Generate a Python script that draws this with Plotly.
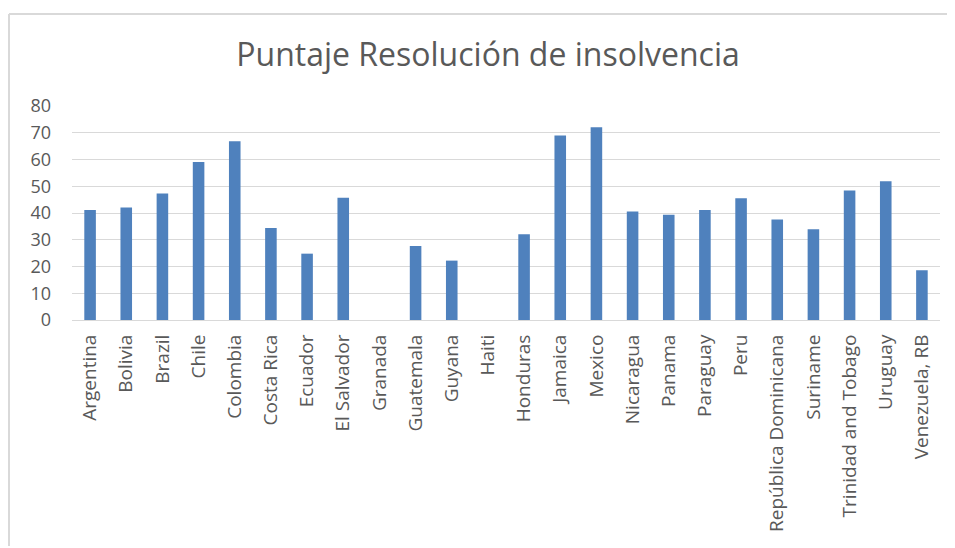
import plotly.graph_objects as go

countries = ["Argentina", "Bolivia", "Brazil", "Chile", "Colombia", "Costa Rica", "Ecuador",
             "El Salvador", "Granada", "Guatemala", "Guyana", "Haiti", "Honduras", "Jamaica",
             "Mexico", "Nicaragua", "Panama", "Paraguay", "Peru", "República Dominicana",
             "Suriname", "Trinidad and Tobago", "Uruguay", "Venezuela, RB"]
scores = [41.1, 42.1, 47.3, 59.1, 66.8, 34.4, 24.8, 45.7, 0, 27.7, 22.2, 0, 32.1, 69.0,
          72.1, 40.6, 39.3, 41.1, 45.5, 37.6, 33.9, 48.4, 51.9, 18.6]
y_ticks = [0, 10, 20, 30, 40, 50, 60, 70, 80]

W, H = 940, 538
L, R, T, B = 64, 8, 98, 226
PW, PH = W - L - R, H - T - B

fig = go.Figure(go.Bar(x=countries, y=scores, marker=dict(color="#4f81bd", line=dict(width=0))))

fig.update_layout(
    width=W, height=H,
    margin=dict(l=L, r=R, t=T, b=B),
    paper_bgcolor="white", plot_bgcolor="white",
    bargap=0.68,
    showlegend=False,
    font=dict(family="Open Sans", color="#595959"),
    title=dict(text="Puntaje Resolución de insolvencia", x=480 / W, xref="container", xanchor="center",
               y=1 - 47 / H, yref="container", yanchor="middle",
               font=dict(family="Open Sans", size=32, color="#595959")),
    xaxis=dict(tickangle=-90, tickfont=dict(size=19, color="#595959"), showgrid=False,
               showline=True, linecolor="#d9d9d9", linewidth=1, ticks="", ticklabelstandoff=6),
    yaxis=dict(range=[0, 80], tickvals=y_ticks, tickfont=dict(size=18, color="#595959"),
               showgrid=True, gridcolor="#d9d9d9", gridwidth=1, zeroline=False, showline=False,
               ticks="", ticklabelstandoff=20),
    shapes=[
        dict(type="line", xref="paper", yref="paper", x0=(1 - L) / PW, x1=(W + 20 - L) / PW,
             y0=1 + (T - 6) / PH, y1=1 + (T - 6) / PH, line=dict(color="#d9d9d9", width=2)),
        dict(type="line", xref="paper", yref="paper", x0=(1 - L) / PW, x1=(1 - L) / PW,
             y0=1 + (T - 6) / PH, y1=-(B + 20) / PH, line=dict(color="#d9d9d9", width=2)),
    ],
)

fig.write_html("out.html", config={"displayModeBar": False})
